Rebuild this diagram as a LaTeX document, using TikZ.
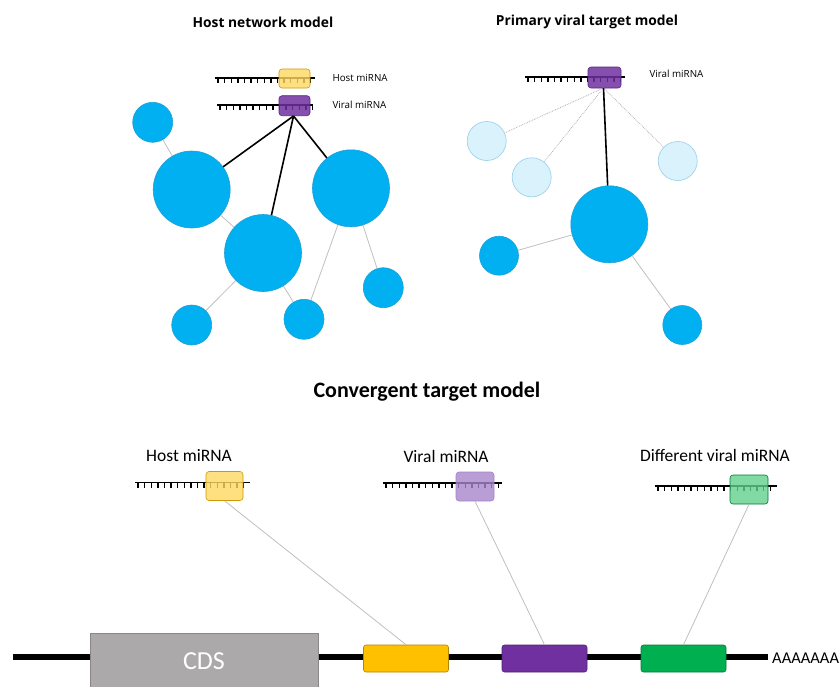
\documentclass[tikz,border=0pt]{standalone}
\usepackage{fontspec}
\usetikzlibrary{backgrounds}
\setmainfont{Carlito}
\newfontfamily\osans{Open Sans}
\definecolor{netblue}{HTML}{00B0F0}
\definecolor{netbd}{HTML}{1FA0D8}
\definecolor{lightblue}{HTML}{DAF2FB}
\definecolor{lightbd}{HTML}{9FD3EC}
\definecolor{myyel}{HTML}{FFC000}
\definecolor{mypur}{HTML}{7030A0}
\definecolor{mygrn}{HTML}{00B050}
\definecolor{lyel}{HTML}{FFD860}
\definecolor{lpur}{HTML}{A886CC}
\definecolor{lgrn}{HTML}{62CF8D}
\definecolor{cdsgray}{HTML}{ABA9A9}
\newcommand\mycomb[4]{%
  \draw[line width=1.8pt] (#1,#3) -- (#2,#3);
  \foreach \i in {0,...,#4} {\draw[line width=1.4pt] ({#1+3+\i*6.6},#3) -- ++(0,5);}
}
\begin{document}
\begin{tikzpicture}[x=1pt,y=-1pt,
  net/.style={circle,fill=netblue,draw=netbd,line width=0.6pt,inner sep=0pt,minimum size=#1},
  lnet/.style={circle,fill=lightblue,draw=lightbd,line width=0.7pt,inner sep=0pt,minimum size=#1},
  blk/.style={line width=1.6pt,black},
  gry/.style={line width=0.8pt,black!25},
  dotl/.style={densely dotted,line width=0.8pt,black!30},
  mir/.style={rounded corners=3pt,line width=0.6pt,fill opacity=0.8,inner sep=0pt},
  gene/.style={rounded corners=2.5pt,line width=0.6pt,inner sep=0pt,minimum width=85pt,minimum height=27pt},
  title/.style={font=\osans\bfseries\fontsize{13.8}{16}\selectfont},
  smlab/.style={font=\osans\fontsize{9.8}{11}\selectfont,anchor=west},
  lab/.style={font=\fontsize{17.5}{20}\selectfont}
]
\useasboundingbox (0,0) rectangle (840,686);

% titles
\node[title] (t1) at (263,22) {Host network model};
\node[title] (t2) at (587,22) {Primary viral target model};
\node[font=\bfseries\fontsize{22}{24}\selectfont] (t3) at (427,392) {Convergent target model};

% ---------- Host network model ----------
\node[net=40pt] (a1) at (152.7,122.3) {};
\node[net=77pt] (a2) at (191.7,189.5) {};
\node[net=77pt] (a3) at (263,253) {};
\node[net=77pt] (a4) at (351,188.3) {};
\node[net=40pt] (a5) at (383.3,287.7) {};
\node[net=40pt] (a6) at (191.7,325) {};
\node[net=40pt] (a7) at (304,319.3) {};
\begin{scope}[on background layer]
\draw[gry] (a1) -- (a2);
\draw[gry] (a2) -- (a3);
\draw[gry] (a3) -- (a6);
\draw[gry] (a3) -- (a7);
\draw[gry] (a4) -- (a7);
\draw[gry] (a4) -- (a5);
\end{scope}

\mycomb{215}{315}{77.7}{14}
\node[mir,fill=lyel,draw=myyel!80!black,minimum width=31pt,minimum height=19pt] (hb) at (294.5,78.5) {};
\node[smlab] (hl) at (329,78) {Host miRNA};
\mycomb{217}{313}{105}{14}
\node[mir,fill=mypur,draw=mypur!80!black,fill opacity=0.85,minimum width=31pt,minimum height=20pt] (vb) at (294.5,105.7) {};
\node[smlab] (vl) at (329,105) {Viral miRNA};
\coordinate (vbp) at (293.5,116);
\draw[blk] (vbp) -- (a2);
\draw[blk] (vbp) -- (a3);
\draw[blk] (vbp) -- (a4);

% ---------- Primary viral target model ----------
\node[lnet=39pt] (b1) at (486.7,141) {};
\node[lnet=39pt] (b2) at (531.7,177.3) {};
\node[lnet=39pt] (b3) at (677.7,161) {};
\node[net=77pt] (b4) at (609.3,224.3) {};
\node[net=39pt] (b5) at (499,255.7) {};
\node[net=39pt] (b6) at (682.3,325) {};
\begin{scope}[on background layer]
\draw[gry] (b4) -- (b5);
\draw[gry] (b4) -- (b6);
\end{scope}
\mycomb{525}{625}{76.7}{14}
\node[mir,fill=mypur,draw=mypur!80!black,fill opacity=0.85,minimum width=33pt,minimum height=21pt] (rb) at (604.5,77.5) {};
\node[smlab] (rl) at (646,74) {Viral miRNA};
\coordinate (rbp) at (603.5,88);
\draw[dotl] (rbp) -- (b1);
\draw[dotl] (rbp) -- (b2);
\draw[dotl] (rbp) -- (b3);
\draw[blk] (rbp) -- (b4);

% ---------- Convergent target model ----------
\coordinate (ls) at (13,657);
\coordinate (le) at (768,657);
\draw[line width=6.5pt] (ls) -- (le);
\node[fill=cdsgray,draw=cdsgray!80!black,line width=0.6pt,minimum width=228pt,minimum height=56pt,inner sep=0pt,
      text=white,font=\fontsize{26}{28}\selectfont] (cds) at (204,661) {CDS};
\node[gene,fill=myyel,draw=myyel!70!black] (gy) at (406,658.5) {};
\node[gene,fill=mypur,draw=mypur!70!black] (gp) at (544.5,658.5) {};
\node[gene,fill=mygrn,draw=mygrn!70!black] (gg) at (683.5,658.5) {};
\node[anchor=west,font=\fontsize{16.5}{18}\selectfont,inner sep=0pt] (poly) at (772,658) {AAAAAAA};

\mycomb{135}{250}{482.5}{16}
\node[mir,fill=lyel,draw=myyel!80!black,minimum width=37pt,minimum height=29pt] (hb2) at (224.5,486) {};
\node[lab] (hl2) at (189,456) {Host miRNA};
\mycomb{383}{502}{483}{17}
\node[mir,fill=lpur,draw=mypur!60!white,minimum width=38pt,minimum height=29pt] (vb2) at (475,486.5) {};
\node[lab] (vl2) at (446,456) {Viral miRNA};
\mycomb{655}{777}{486}{17}
\node[mir,fill=lgrn,draw=mygrn!70!black,minimum width=38pt,minimum height=29pt] (gb2) at (749,489.5) {};
\node[lab] (gl2) at (715,455) {Different viral miRNA};

\draw[gry] (hb2.south) -- (gy.north);
\draw[gry] (vb2.south) -- (gp.north);
\draw[gry] (gb2.south) -- (gg.north);
\end{tikzpicture}
\end{document}
